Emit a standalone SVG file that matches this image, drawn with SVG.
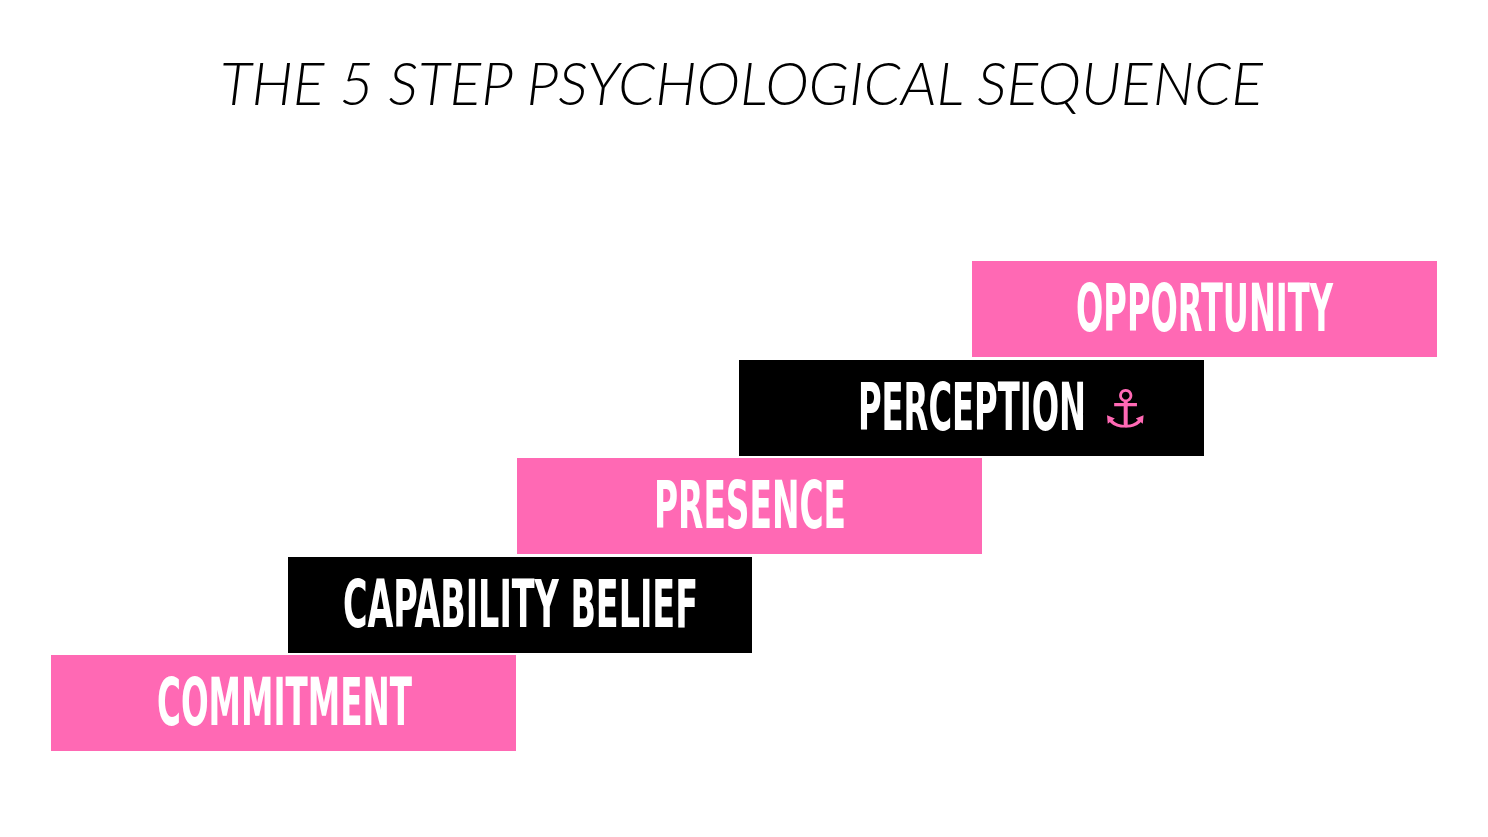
<svg xmlns="http://www.w3.org/2000/svg" width="1488" height="837" viewBox="0 0 1488 837">
<style>
.p{fill:#FF69B4}.b{fill:#000}
.t{font-family:"DejaVu Sans Condensed","DejaVu Sans",sans-serif;font-stretch:condensed;font-weight:bold;font-size:66px;fill:#fff}
</style>
<rect width="1488" height="837" fill="#fff"/>
<text x="220" y="105" textLength="1043" lengthAdjust="spacingAndGlyphs" font-family="Lato,'Liberation Sans',sans-serif" font-weight="300" font-style="italic" font-size="60">THE 5 STEP PSYCHOLOGICAL SEQUENCE</text>
<g id="opportunity"><rect class="p" x="972" y="261" width="465" height="96"/><text class="t" x="1076" y="331" textLength="257" lengthAdjust="spacingAndGlyphs">OPPORTUNITY</text></g>
<g id="perception"><rect class="b" x="739" y="360" width="465" height="96"/><text class="t" x="858" y="430" textLength="228" lengthAdjust="spacingAndGlyphs">PERCEPTION</text><text x="1102" y="427" font-family="'DejaVu Sans',sans-serif" font-size="52" font-weight="bold" fill="#FF69B4">⚓</text></g>
<g id="presence"><rect class="p" x="517" y="458" width="465" height="96"/><text class="t" x="654" y="528" textLength="192" lengthAdjust="spacingAndGlyphs">PRESENCE</text></g>
<g id="capability"><rect class="b" x="288" y="557" width="464" height="96"/><text class="t" x="343" y="627" textLength="355" lengthAdjust="spacingAndGlyphs">CAPABILITY BELIEF</text></g>
<g id="commitment"><rect class="p" x="51" y="655" width="465" height="96"/><text class="t" x="157" y="725" textLength="255" lengthAdjust="spacingAndGlyphs">COMMITMENT</text></g>
<g id="connectors"/>
</svg>
